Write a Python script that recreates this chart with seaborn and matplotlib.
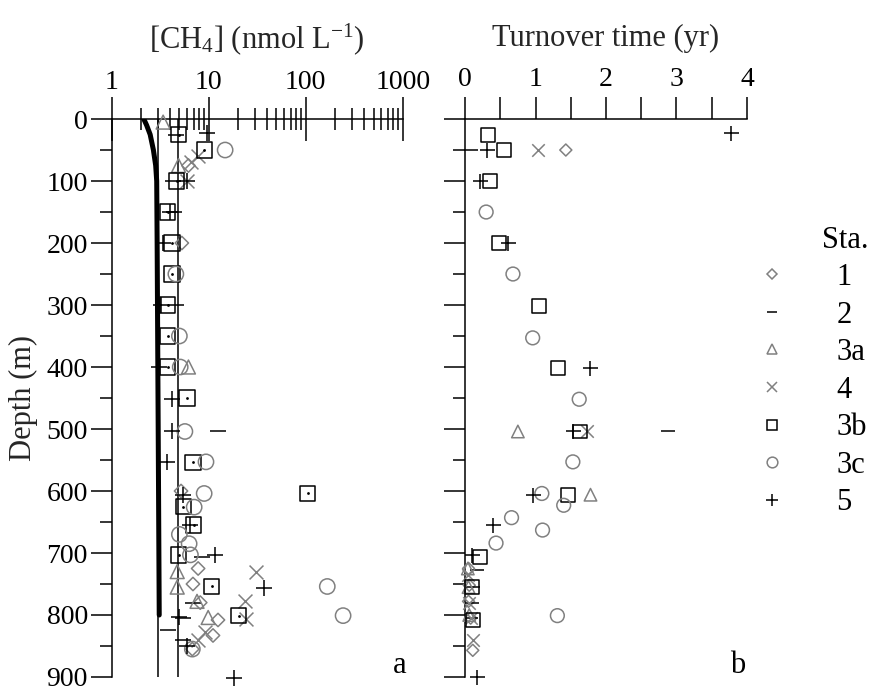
import numpy as np
import pandas as pd
import matplotlib
matplotlib.use("Agg")
import matplotlib.pyplot as plt
import seaborn as sns
from matplotlib.lines import Line2D
from matplotlib.ticker import (LogLocator, MultipleLocator, NullFormatter,
                               FixedFormatter, FixedLocator)

# ---------------------------------------------------------------- data
stations = ["1", "2", "3a", "4", "3b", "3c", "5"]

# methane concentration profiles (depth in m, CH4 in nmol/L)
st1_ch4_depth = [75, 200, 600, 725, 750, 780, 808, 833, 855]
st1_ch4 = [6.2, 5.3, 5.2, 7.8, 6.9, 8.2, 12.5, 11.1, 6.8]
st2_ch4_depth = [25, 100, 150, 300, 504, 707, 780, 805, 825, 840]
st2_ch4 = [4.6, 4.3, 4.4, 4.6, 12.5, 8.6, 6.9, 5.5, 3.8, 5.5]
st3a_ch4_depth = [5, 75, 400, 730, 755, 778, 804]
st3a_ch4 = [3.4, 4.9, 6.2, 4.75, 4.75, 7.6, 9.9]
st4_ch4_depth = [60, 70, 100, 730, 778, 806, 828, 840]
st4_ch4 = [7.8, 6.6, 6.0, 31.0, 23.5, 24.5, 9.2, 7.8]
st3b_ch4_depth = [25, 50, 100, 150, 200, 250, 300, 350, 400, 450, 554,
                  604, 625, 655, 703, 754, 801]
st3b_ch4 = [4.9, 9.0, 4.7, 3.8, 4.2, 4.2, 3.8, 3.8, 3.8, 6.0, 6.9,
            105, 5.5, 7.0, 4.9, 10.8, 20.4]
st3c_ch4_depth = [50, 250, 350, 400, 504, 553, 604, 626, 670, 685, 703,
                  754, 801, 855]
st3c_ch4 = [14.8, 4.6, 5.0, 5.1, 5.7, 9.4, 9.0, 7.1, 5.0, 6.3, 6.5,
            167, 243, 6.8]
st5_ch4_depth = [22, 100, 150, 200, 300, 400, 452, 504, 554, 606, 655,
                 703, 757, 804, 850, 901]
st5_ch4 = [9.7, 6.0, 4.0, 3.4, 3.2, 3.1, 4.2, 4.2, 3.75, 5.5, 6.4,
           11.7, 36.9, 4.9, 6.0, 18.1]

# atmospheric-equilibrium profile and reference levels (nmol/L)
eq_depth = [0, 10, 25, 50, 75, 100, 200, 400, 600, 800]
eq_ch4 = [2.15, 2.3, 2.5, 2.7, 2.85, 2.92, 2.95, 3.0, 3.05, 3.1]
ref_levels = [3.0, 4.85]

# methane turnover times (depth in m, years)
st1_tt_depth = [50, 725, 752, 778, 805, 857]
st1_tt = [1.43, 0.05, 0.06, 0.05, 0.08, 0.11]
st2_tt_depth = [50, 504, 728, 755, 780, 805]
st2_tt = [0.08, 2.88, 0.17, 0.12, 0.10, 0.08]
st3a_tt_depth = [504, 606, 725, 755, 800]
st3a_tt = [0.75, 1.78, 0.04, 0.05, 0.06]
st4_tt_depth = [50, 504, 735, 780, 805, 840]
st4_tt = [1.04, 1.73, 0.04, 0.05, 0.08, 0.12]
st3b_tt_depth = [26, 50, 100, 200, 302, 402, 504, 606, 707, 755, 808]
st3b_tt = [0.33, 0.55, 0.35, 0.48, 1.05, 1.32, 1.63, 1.46, 0.21, 0.10, 0.11]
st3c_tt_depth = [150, 250, 353, 452, 553, 604, 623, 643, 663, 684, 801]
st3c_tt = [0.30, 0.68, 0.96, 1.62, 1.53, 1.09, 1.40, 0.66, 1.10, 0.44, 1.31]
st5_tt_depth = [23, 50, 100, 200, 402, 504, 606, 655, 703, 900]
st5_tt = [3.77, 0.31, 0.21, 0.61, 1.77, 1.53, 0.97, 0.40, 0.10, 0.17]

ch4_sets = {
    "1": (st1_ch4_depth, st1_ch4), "2": (st2_ch4_depth, st2_ch4),
    "3a": (st3a_ch4_depth, st3a_ch4), "4": (st4_ch4_depth, st4_ch4),
    "3b": (st3b_ch4_depth, st3b_ch4), "3c": (st3c_ch4_depth, st3c_ch4),
    "5": (st5_ch4_depth, st5_ch4),
}
tt_sets = {
    "1": (st1_tt_depth, st1_tt), "2": (st2_tt_depth, st2_tt),
    "3a": (st3a_tt_depth, st3a_tt), "4": (st4_tt_depth, st4_tt),
    "3b": (st3b_tt_depth, st3b_tt), "3c": (st3c_tt_depth, st3c_tt),
    "5": (st5_tt_depth, st5_tt),
}

ch4_df = pd.concat([pd.DataFrame({"station": s, "depth": d, "value": v})
                    for s, (d, v) in ch4_sets.items()], ignore_index=True)
tt_df = pd.concat([pd.DataFrame({"station": s, "depth": d, "value": v})
                   for s, (d, v) in tt_sets.items()], ignore_index=True)

# ---------------------------------------------------------------- style
sns.set_theme(style="ticks")
plt.rcParams["font.family"] = ["Liberation Serif", "DejaVu Serif"]
plt.rcParams["mathtext.fontset"] = "custom"
plt.rcParams["mathtext.rm"] = "Liberation Serif"
plt.rcParams["mathtext.it"] = "Liberation Serif:italic"
plt.rcParams["text.color"] = "black"
plt.rcParams["axes.edgecolor"] = "black"
plt.rcParams["xtick.color"] = "black"
plt.rcParams["ytick.color"] = "black"

GRAY = "#808080"
markers = {"1": "D", "2": "_", "3a": "^", "4": "x", "3b": "s", "3c": "o", "5": "+"}
colors = {"1": GRAY, "2": "black", "3a": GRAY, "4": GRAY,
          "3b": "black", "3c": GRAY, "5": "black"}
msize = {"1": 6.8, "2": 11, "3a": 10, "4": 10, "3b": 11, "3c": 11, "5": 12}
line_art = {"2", "4", "5"}
LW = 1.1
FS_LABEL = 22
FS_TICK = 20

fig = plt.figure(figsize=(8.7, 6.94), dpi=100)
ax_a = fig.add_axes([0.1282, 0.0245, 0.3347, 0.804])
ax_b = fig.add_axes([0.5345, 0.0245, 0.3241, 0.804])


def draw_station(ax, df, st, scale=1.0):
    sub = df[df["station"] == st]
    kw = dict(data=sub, x="value", y="depth", ax=ax, marker=markers[st],
              s=(msize[st] * scale) ** 2, linewidth=LW, legend=False,
              clip_on=False, zorder=3)
    if st in line_art:
        sns.scatterplot(color=colors[st], **kw)
    else:
        sns.scatterplot(facecolor="none", edgecolor=colors[st], **kw)


# ---------------------------------------------------------------- panel a
sns.lineplot(x=eq_ch4, y=eq_depth, sort=False, estimator=None,
             color="black", lw=3.6, ax=ax_a, zorder=2)
for lvl in ref_levels:
    ax_a.axvline(lvl, color="black", lw=LW, zorder=2)
for st in stations:
    draw_station(ax_a, ch4_df, st)
# centre dots of the station 3b squares
sub3b = ch4_df[ch4_df["station"] == "3b"]
sns.scatterplot(data=sub3b, x="value", y="depth", ax=ax_a, marker="o",
                s=4, color="black", linewidth=0, legend=False, zorder=4)

ax_a.set_xscale("log")
ax_a.set_xlim(1, 1000)
ax_a.xaxis.set_major_locator(FixedLocator([1, 10, 100, 1000]))
ax_a.xaxis.set_major_formatter(FixedFormatter(["1", "10", "100", "1000"]))
ax_a.xaxis.set_minor_locator(LogLocator(base=10, subs=np.arange(2, 10)))
ax_a.xaxis.set_minor_formatter(NullFormatter())
ax_a.xaxis.tick_top()
ax_a.xaxis.set_label_position("top")
ax_a.tick_params(axis="x", which="major", direction="inout", length=31.5,
                 width=LW, pad=1.5, labelsize=FS_TICK)
ax_a.tick_params(axis="x", which="minor", direction="inout", length=15.8,
                 width=LW)
ax_a.set_xlabel(r"[CH$_4$] (nmol L$^{-1}$)", fontsize=FS_LABEL, labelpad=16)

# ---------------------------------------------------------------- panel b
for st in stations:
    draw_station(ax_b, tt_df, st, scale=0.9)

ax_b.set_xlim(0, 4)
ax_b.xaxis.set_major_locator(MultipleLocator(1))
ax_b.xaxis.set_minor_locator(MultipleLocator(0.5))
ax_b.xaxis.tick_top()
ax_b.xaxis.set_label_position("top")
ax_b.tick_params(axis="x", which="both", direction="out", length=15.8,
                 width=LW, pad=3.5, labelsize=FS_TICK)
ax_b.set_xlabel("Turnover time (yr)", fontsize=FS_LABEL, labelpad=15)

# ---------------------------------------------------------------- shared depth axes
for ax in (ax_a, ax_b):
    ax.set_ylim(900, 0)
    ax.yaxis.set_major_locator(MultipleLocator(100))
    ax.yaxis.set_minor_locator(MultipleLocator(50))
    ax.tick_params(axis="y", which="major", direction="out", length=15,
                   width=LW, pad=2, labelsize=FS_TICK)
    ax.tick_params(axis="y", which="minor", direction="out", length=8.5,
                   width=LW)
    ax.spines["bottom"].set_visible(False)
    ax.spines["right"].set_visible(False)
    ax.spines["top"].set_linewidth(LW)
    ax.spines["left"].set_linewidth(LW)
    ax.set_facecolor("none")

ax_a.set_ylabel("Depth (m)", fontsize=FS_LABEL, labelpad=6)
ax_b.set_ylabel("")
ax_b.tick_params(axis="y", which="both", labelleft=False)

ax_a.text(0.991, 0.0215, "a", transform=ax_a.transAxes, ha="center",
          va="center", fontsize=FS_LABEL)
ax_b.text(0.968, 0.0215, "b", transform=ax_b.transAxes, ha="center",
          va="center", fontsize=FS_LABEL)

# ---------------------------------------------------------------- station key
handles = []
for st in stations:
    if st in line_art:
        h = Line2D([], [], ls="none", marker=markers[st], color=colors[st],
                   markersize=msize[st] * 0.7, mew=LW)
    else:
        h = Line2D([], [], ls="none", marker=markers[st], mfc="none",
                   mec=colors[st], markersize=msize[st] * 0.7, mew=LW)
    handles.append(h)
fig.legend(handles, stations, loc="upper left",
           bbox_to_anchor=(757 / 870, 1 - 263 / 694), frameon=False,
           fontsize=FS_LABEL, handlelength=1.0, handletextpad=1.6,
           labelspacing=0.28, borderpad=0, borderaxespad=0)
fig.text(822 / 870, 1 - 240 / 694, "Sta.", ha="left", va="center",
         fontsize=FS_LABEL)

fig.savefig("out.png", dpi=100)
